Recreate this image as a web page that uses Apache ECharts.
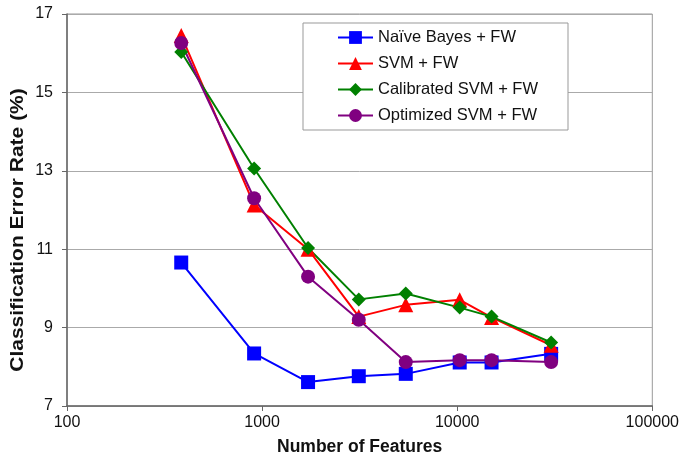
<!DOCTYPE html>
<html><head><meta charset="utf-8">
<script src="https://cdn.jsdelivr.net/npm/echarts@6/dist/echarts.min.js"></script>
<style>html,body{margin:0;padding:0;background:#fff}#c{width:682px;height:461px}</style>
</head><body><div id="c"></div>
<script>
var features = [385, 910, 1720, 3130, 5450, 10300, 15000, 30300];
var naiveBayes = [10.66, 8.34, 7.61, 7.76, 7.82, 8.11, 8.11, 8.33];
var svm = [16.45, 12.13, 11.0, 9.28, 9.58, 9.71, 9.26, 8.55];
var calibratedSvm = [16.03, 13.06, 11.03, 9.72, 9.87, 9.51, 9.28, 8.62];
var optimizedSvm = [16.26, 12.3, 10.3, 9.2, 8.12, 8.17, 8.17, 8.12];
var seriesNames = ['Naïve Bayes + FW', 'SVM + FW', 'Calibrated SVM + FW', 'Optimized SVM + FW'];
var yTicks = [7, 9, 11, 13, 15, 17];
var xTicks = [100, 1000, 10000, 100000];
var xTitle = 'Number of Features';
var yTitle = 'Classification Error Rate (%)';

function pairs(ys){ return features.map(function(f,i){ return [f, ys[i]]; }); }
var font = 'Liberation Sans, Arial, sans-serif';
var chart = echarts.init(document.getElementById('c'));
function mk(name, ys, color, symbol, size){
  return {name:name, type:'line', data:pairs(ys), symbol:symbol, symbolSize:size,
    lineStyle:{color:color, width:2}, itemStyle:{color:color}, emphasis:{disabled:true}, animation:false};
}
chart.setOption({
  animation:false,
  grid:{left:67, right:27, top:14, bottom:50, show:true, borderColor:'#999', borderWidth:1},
  legend:{orient:'vertical', left:303, top:23, itemWidth:35, itemHeight:16, itemGap:9,
    borderColor:'#999', borderWidth:1, padding:[6, 30, 6, 34], backgroundColor:'#fff',
    textStyle:{fontFamily:font, fontSize:16.5, color:'#111'}, data:seriesNames},
  graphic:[{type:'text', x:18, y:230, rotation:Math.PI/2, scaleX:1.2, z:10,
    style:{text:yTitle, font:'bold 17.5px Liberation Sans, Arial, sans-serif', fill:'#111',
      textAlign:'center', textVerticalAlign:'middle'}}],
  xAxis:{type:'log', logBase:10, min:xTicks[0], max:xTicks[xTicks.length-1],
    name:xTitle, nameLocation:'middle', nameGap:32,
    nameTextStyle:{fontFamily:font, fontSize:17.5, fontWeight:'bold', color:'#111'},
    axisLine:{lineStyle:{color:'#666', width:1.5}},
    axisTick:{show:true, length:5, lineStyle:{color:'#666'}},
    minorTick:{show:false},
    splitLine:{show:false},
    axisLabel:{fontFamily:font, fontSize:16, color:'#111', margin:9, formatter:function(v){return String(Math.round(v));}}},
  yAxis:{type:'value', min:yTicks[0], max:yTicks[yTicks.length-1], interval:2,
    axisLine:{show:true, lineStyle:{color:'#666', width:1.5}},
    axisTick:{show:true, length:5, lineStyle:{color:'#666'}},
    splitLine:{show:true, lineStyle:{color:'#aaa', width:1}},
    axisLabel:{fontFamily:font, fontSize:16, color:'#111', margin:14}},
  series:[
    mk(seriesNames[0], naiveBayes, '#0000ff', 'rect', 14),
    mk(seriesNames[1], svm, '#ff0000', 'triangle', 15),
    mk(seriesNames[2], calibratedSvm, '#008000', 'diamond', 14),
    mk(seriesNames[3], optimizedSvm, '#800080', 'circle', 14)
  ]
});
</script></body></html>
